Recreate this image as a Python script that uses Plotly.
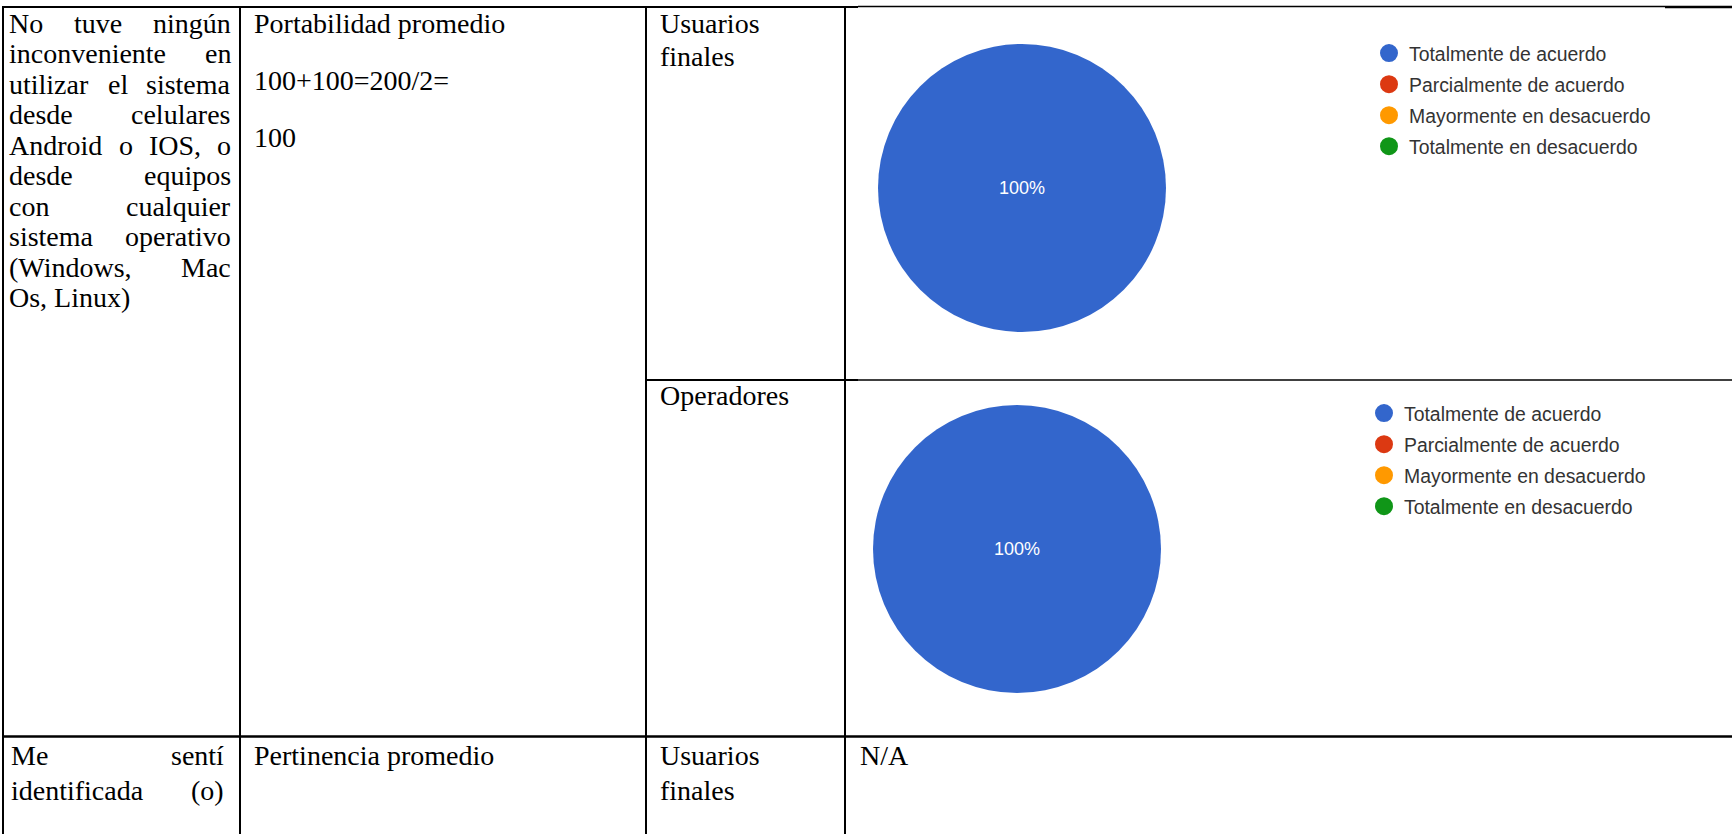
import plotly.graph_objects as go

W, H = 1732, 834

# Survey answer categories and the share of respondents in each group (%)
categorias = ["Totalmente de acuerdo", "Parcialmente de acuerdo",
              "Mayormente en desacuerdo", "Totalmente en desacuerdo"]
colores = ["#3366cc", "#dc3912", "#ff9900", "#109618"]
usuarios_finales = [100, 0, 0, 0]
operadores = [100, 0, 0, 0]

# Table cell texts
criterio_1 = ["No tuve ningún", "inconveniente en", "utilizar el sistema",
              "desde celulares", "Android o IOS, o", "desde equipos",
              "con cualquier", "sistema operativo", "(Windows, Mac",
              "Os, Linux)"]
indicador_1 = ["Portabilidad promedio", "100+100=200/2=", "100"]
grupo_1 = ["Usuarios", "finales"]
grupo_2 = ["Operadores"]
criterio_2 = ["Me sentí", "identificada (o)"]
indicador_2 = ["Pertinencia promedio"]
grupo_3 = ["Usuarios", "finales"]
resultado_3 = "N/A"

SERIF = "Liberation Serif"
FS = 28
SANS = "Liberation Sans"

# Times-compatible advance widths (per 1000 em) used to justify cell lines
ADV = {
    "a": 444, "b": 500, "c": 444, "d": 500, "e": 444, "f": 333, "g": 500,
    "h": 500, "i": 278, "j": 278, "k": 500, "l": 278, "m": 778, "n": 500,
    "o": 500, "p": 500, "q": 500, "r": 333, "s": 389, "t": 278, "u": 500,
    "v": 500, "w": 722, "x": 500, "y": 500, "z": 444, "A": 722, "I": 333,
    "L": 611, "M": 889, "N": 722, "O": 722, "S": 556, "W": 944, " ": 250,
    ",": 250, "(": 333, ")": 333, "ú": 500, "í": 278,
}


def text_width(s, size):
    return sum(ADV.get(ch, 500) for ch in s) * size / 1000.0


annotations = []


def put(text, x, y, anchor="left", size=FS, family=SERIF, color="#000000"):
    annotations.append(dict(
        x=x, y=y, xref="x", yref="y", text=text, showarrow=False,
        xanchor=anchor, yanchor="middle", borderpad=0, borderwidth=0,
        font=dict(family=family, size=size, color=color)))


def justified(line, x0, x1, y):
    words = line.split(" ")
    if len(words) == 1:
        put(line, x0, y)
        return
    widths = [text_width(w, FS) for w in words]
    gap = (x1 - x0 - sum(widths)) / (len(words) - 1)
    x = x0
    for i, (w, wd) in enumerate(zip(words, widths)):
        if i == len(words) - 1:
            put(w, x1, y, anchor="right")
        else:
            put(w, x, y)
        x += wd + gap


# Column 1, row 1 (justified paragraph, last line left aligned)
Y0, STEP = 23, 30.5
for i, line in enumerate(criterio_1):
    y = Y0 + i * STEP
    if i == len(criterio_1) - 1:
        put(line, 9, y)
    else:
        justified(line, 9, 231, y)

# Column 2, row 1
for line, y in zip(indicador_1, [Y0, 80, 137]):
    put(line, 254, y)

# Column 3 labels
for i, line in enumerate(grupo_1):
    put(line, 660, Y0 + i * 33)
put(grupo_2[0], 660, 395)

# Row 2
R2, R2STEP = 755, 35
for i, line in enumerate(criterio_2):
    justified(line, 11, 224, R2 + i * R2STEP)
put(indicador_2[0], 254, R2)
for i, line in enumerate(grupo_3):
    put(line, 660, R2 + i * R2STEP)
put(resultado_3, 860, R2)

# Table rules
shapes = []


def rule(x0, y0, x1, y1, w=2.0):
    shapes.append(dict(type="line", xref="x", yref="y", x0=x0, y0=y0,
                       x1=x1, y1=y1, line=dict(color="#000000", width=w)))


for xv in [3, 240, 646, 845]:
    rule(xv, 6, xv, H + 5)
rule(2, 7, 858, 7, 2.2)
rule(858, 6.5, 1665, 6.5, 1.4)
rule(1665, 7, W + 5, 7, 2.4)
rule(646, 380, 858, 380, 2.2)
rule(858, 380, W + 5, 380, 1.4)
rule(2, 736.5, W + 5, 736.5, 2.4)


def pie_domain(cx, cy, r):
    return dict(x=[(cx - r) / W, (cx + r) / W],
                y=[1 - (cy + r) / H, 1 - (cy - r) / H])


fig = go.Figure()


def add_pie(values, cx, cy, r):
    labs = [c for c, v in zip(categorias, values) if v > 0]
    vals = [v for v in values if v > 0]
    cols = [col for col, v in zip(colores, values) if v > 0]
    fig.add_trace(go.Pie(
        labels=labs, values=vals, sort=False, direction="clockwise",
        marker=dict(colors=cols, line=dict(width=0)),
        textinfo="percent", texttemplate="%{percent:.0%}",
        textposition="inside", insidetextorientation="horizontal",
        textfont=dict(family=SANS, size=18, color="#ffffff"),
        domain=pie_domain(cx, cy, r), showlegend=False, hoverinfo="label+percent"))


add_pie(usuarios_finales, 1022, 188, 144)
add_pie(operadores, 1017, 549, 144)

# Circle-marker legend entries for each chart
for leg in ["legend", "legend2"]:
    for cat, col in zip(categorias, colores):
        fig.add_trace(go.Scatter(
            x=[None], y=[None], mode="markers", name=cat, legend=leg,
            legendgroup=leg + cat,
            marker=dict(color=col, size=16, symbol="circle",
                        line=dict(color=col, width=2)),
            hoverinfo="skip"))

legend_style = dict(xanchor="left", yanchor="top", bgcolor="rgba(0,0,0,0)",
                    borderwidth=0, tracegroupgap=2.8, itemwidth=30,
                    font=dict(family=SANS, size=19.4, color="#333333"))

fig.update_layout(
    width=W, height=H, margin=dict(l=0, r=0, t=0, b=0),
    paper_bgcolor="#ffffff", plot_bgcolor="#ffffff",
    xaxis=dict(range=[0, W], visible=False, domain=[0, 1], fixedrange=True),
    yaxis=dict(range=[H, 0], visible=False, domain=[0, 1], fixedrange=True),
    shapes=shapes, annotations=annotations,
    legend=dict(x=(1389 - 20) / W, y=1 - 34 / H, **legend_style),
    legend2=dict(x=(1384 - 20) / W, y=1 - 394 / H, **legend_style),
)

fig.write_html("out.html")
